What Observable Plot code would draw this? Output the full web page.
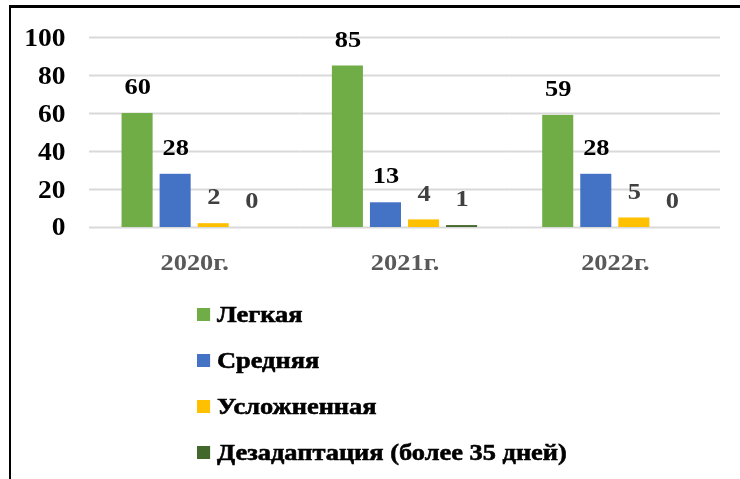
<!DOCTYPE html>
<html>
<head>
<meta charset="utf-8">
<script src="https://cdn.jsdelivr.net/npm/d3@7"></script>
<script src="https://cdn.jsdelivr.net/npm/@observablehq/plot@0.6"></script>
<style>
  html, body { margin: 0; padding: 0; background: #fff; overflow: hidden; }
  #page { position: relative; width: 740px; height: 479px; }
  #chart { position: absolute; left: 0; top: 0; transform-origin: 0 0; }
  #legend { position: absolute; font-family: "Liberation Serif", "Times New Roman", serif; font-weight: bold; font-size: 24px; color: #000; -webkit-text-stroke: 0.6px #000; }
  .row { display: flex; align-items: center; height: 46px; white-space: nowrap; }
  .sw { height: 13px; flex: none; }
  #frame { position: absolute; left: 9px; top: 5px; width: 731px; height: 474px; border-top: 3px solid #000; border-left: 2px solid #000; box-sizing: border-box; pointer-events: none; }
</style>
</head>
<body>
<div id="page">
  <div id="chart"></div>
  <div id="frame"></div>
</div>
<script>
// ---- data ----
const years = ["2020г.", "2021г.", "2022г."];
const series = ["Легкая", "Средняя", "Усложненная", "Дезадаптация (более 35 дней)"];
const legkaya = [60, 85, 59];
const srednyaya = [28, 13, 28];
const uslozhnennaya = [2, 4, 5];
const dezadaptaciya = [0, 1, 0];
const yTicks = [0, 20, 40, 60, 80, 100];
const colors = ["#70AD47", "#4472C4", "#FFC000", "#43682B"];
const labelColors = ["#000000", "#000000", "#404040", "#404040"];

const valuesBySeries = [legkaya, srednyaya, uslozhnennaya, dezadaptaciya];
const rows = [];
years.forEach((yr, i) => {
  series.forEach((s, j) => {
    rows.push({year: yr, series: s, value: valuesBySeries[j][i], labelColor: labelColors[j]});
  });
});

// ---- layout (the reference looks horizontally stretched) ----
const S = 1.1;
const W = 740 / S;
const font = "Liberation Serif";

const chart = Plot.plot({
  width: W,
  height: 290,
  marginTop: 37,
  marginBottom: 63,
  marginLeft: 89 / S,
  marginRight: W - 720 / S,
  style: {fontFamily: font, fontWeight: "bold", fontSize: "24px", background: "transparent"},
  fx: {domain: years, padding: 0, round: false},
  x: {domain: series, axis: null, paddingInner: 0.184, paddingOuter: 0.855, round: false},
  y: {domain: [0, 100]},
  color: {domain: series, range: colors},
  marks: [
    Plot.gridY(yTicks, {stroke: "#d9d9d9", strokeOpacity: 1, strokeWidth: 2}),
    Plot.axisY(yTicks, {tickSize: 0, tickPadding: 89 / S - 65 / S, fontSize: 25, fill: "#000", label: null}),
    Plot.axisFx({anchor: "bottom", tickSize: 0, tickPadding: 25, fontSize: 24, fill: "#595959", label: null}),
    Plot.barY(rows, {fx: "year", x: "series", y: "value", fill: "series"}),
    Plot.text(rows, {fx: "year", x: "series", y: "value", text: d => String(d.value), dy: -27, fill: d => d.labelColor, fontSize: 24})
  ]
});
// thicken the text strokes a little (the reference uses a heavy bold serif)
d3.select(chart).selectAll("text").each(function () {
  const f = getComputedStyle(this).fill;
  this.style.stroke = f;
  this.style.strokeWidth = "0.6px";
});

const chartDiv = document.getElementById("chart");
chartDiv.style.width = W + "px";
chartDiv.style.transform = `scaleX(${S})`;
chartDiv.appendChild(chart);

// legend (HTML below the SVG)
const legend = document.createElement("div");
legend.id = "legend";
legend.style.left = (197 / S) + "px";
legend.style.top = "291px";
series.forEach((s, j) => {
  const row = document.createElement("div");
  row.className = "row";
  const sw = document.createElement("span");
  sw.className = "sw";
  sw.style.width = (13 / S) + "px";
  sw.style.background = colors[j];
  sw.style.marginRight = (7 / S) + "px";
  const t = document.createElement("span");
  t.textContent = s;
  row.appendChild(sw);
  row.appendChild(t);
  legend.appendChild(row);
});
chartDiv.appendChild(legend);
</script>
</body>
</html>
